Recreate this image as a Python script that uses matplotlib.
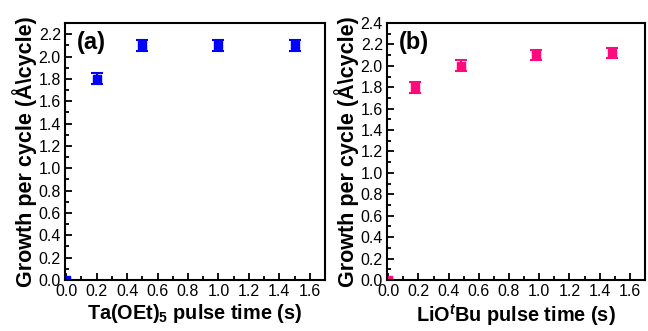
import matplotlib
matplotlib.use('Agg')
import matplotlib.pyplot as plt
from matplotlib.ticker import MultipleLocator

plt.rcParams['font.family'] = ['Liberation Sans', 'DejaVu Sans']
plt.rcParams['mathtext.fontset'] = 'custom'
plt.rcParams['mathtext.rm'] = 'Liberation Sans:bold'
plt.rcParams['mathtext.bf'] = 'Liberation Sans:bold'
plt.rcParams['mathtext.it'] = 'Liberation Sans:bold:italic'

# panel (a): Ta(OEt)5 pulse
ta_time = [0.0, 0.2, 0.5, 1.0, 1.5]
ta_gpc = [0.0, 1.8, 2.1, 2.1, 2.1]
ta_err = [0.0, 0.05, 0.05, 0.05, 0.05]

# panel (b): LiOtBu pulse
li_time = [0.0, 0.18, 0.48, 0.98, 1.48]
li_gpc = [0.0, 1.8, 2.0, 2.1, 2.12]
li_err = [0.0, 0.05, 0.05, 0.05, 0.05]

fig = plt.figure(figsize=(6.48, 3.31), dpi=100)
ax1 = fig.add_axes([65 / 648, 1 - 280 / 331, 260 / 648, 257 / 331])
ax2 = fig.add_axes([387 / 648, 1 - 280 / 331, 258 / 648, 257 / 331])

panels = [
    (ax1, ta_time, ta_gpc, ta_err, '#0000ff', 2.3, '(a)', 'Ta(OEt)$_\\mathbf{5}$ pulse time (s)'),
    (ax2, li_time, li_gpc, li_err, '#ff0a7e', 2.4, '(b)', 'LiO$^{\\mathit{t}}$Bu pulse time (s)'),
]

for ax, x, y, e, c, ytop, tag, xl in panels:
    ax.errorbar(x, y, yerr=e, fmt='s', color=c, ms=6, capsize=4.5, elinewidth=1.5, capthick=1.5)
    ax.set_xlim(-0.008, 1.7)
    ax.set_ylim(0, ytop)
    ax.xaxis.set_major_locator(MultipleLocator(0.2))
    ax.xaxis.set_minor_locator(MultipleLocator(0.1))
    ax.yaxis.set_major_locator(MultipleLocator(0.2))
    ax.yaxis.set_minor_locator(MultipleLocator(0.1))
    ax.tick_params(which='both', direction='in', width=1.3, labelsize=11.5, pad=3)
    ax.tick_params(which='major', length=5)
    ax.tick_params(which='minor', length=3)
    for s in ax.spines.values():
        s.set_linewidth(1.5)
    ax.set_xlabel(xl, fontsize=14.3, fontweight='bold', labelpad=2)
    ax.set_ylabel('Growth per cycle (Å\\cycle)', fontsize=15.5, fontweight='bold', labelpad=1)
    ax.text(0.045, 0.97, tag, transform=ax.transAxes, fontsize=17, fontweight='bold', va='top', ha='left')

fig.savefig('out.png', dpi=100)
